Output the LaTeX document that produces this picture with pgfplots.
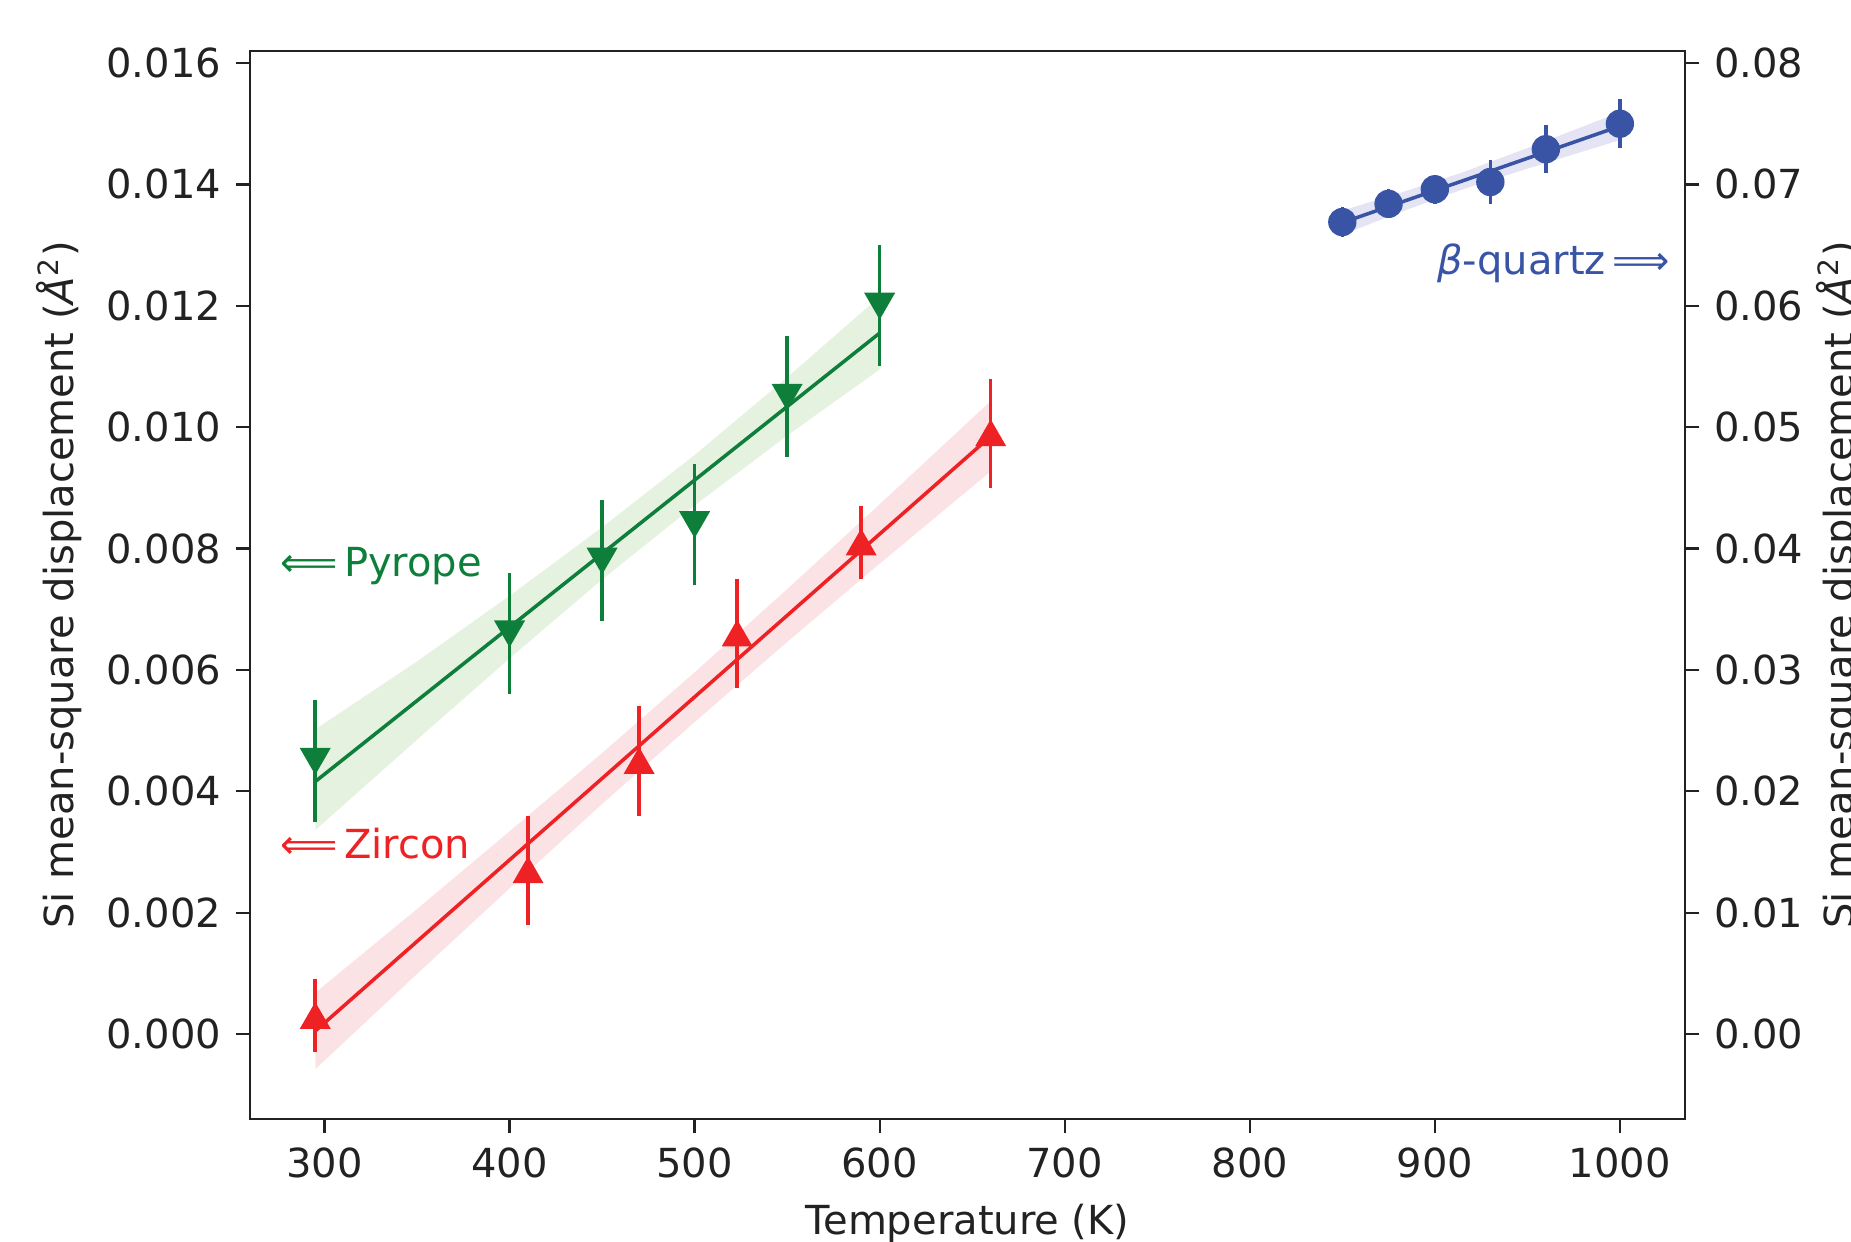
\documentclass[border=0pt]{standalone}
\usepackage{fontspec}
\setmainfont{DejaVu Sans}
\usepackage{pgfplots}
\pgfplotsset{compat=1.18}
\definecolor{txt}{HTML}{222222}
\definecolor{zircon}{HTML}{EE2124}
\definecolor{zirconband}{HTML}{FBE3E5}
\definecolor{pyrope}{HTML}{0E7F3B}
\definecolor{pyropeband}{HTML}{E6F2E0}
\definecolor{quartz}{HTML}{3954A5}
\definecolor{quartzband}{HTML}{E4E4F4}

\pgfplotsset{
  base/.style={
    at={(0,0)}, anchor=south west,
    width=344.2pt, height=256.2pt, scale only axis,
    xmin=259.75, xmax=1035.25,
    tick align=outside, major tick length=3.4pt,
    tick style={line width=0.55pt, color=txt},
    axis line style={line width=0.55pt, color=txt},
    every tick label/.append style={text=txt},
    label style={text=txt},
    /pgf/number format/assume math mode=true,
    /pgf/number format/1000 sep={},
    scaled y ticks=false,
  },
  errs/.style={error bars/.cd, y dir=both, y explicit, error mark=none,
    error bar style={line width=0.85pt}},
}

\begin{document}
\begin{tikzpicture}[font=\fontsize{9.6}{11.5}\selectfont]
\begin{axis}[base,
    ymin=-0.0014, ymax=0.0162,
    xtick={300,400,500,600,700,800,900,1000},
    ytick={0,0.002,0.004,0.006,0.008,0.010,0.012,0.014,0.016},
    xtick pos=left, ytick pos=left,
    yticklabel style={/pgf/number format/.cd, fixed, fixed zerofill, precision=3},
    xlabel={Temperature (K)},
    ylabel={Si mean-square displacement (\textit{Å}\textsuperscript{2})},
    x label style={at={(axis description cs:0.5,-0.1077)}, anchor=base},
    y label style={at={(axis description cs:-0.133,0.5)}, anchor=center},
]
% pyrope band, fit, data
\addplot[fill=pyropeband, draw=none] coordinates {
  (295,0.00502) (350,0.00614) (400,0.00722) (450,0.00835) (500,0.00954) (550,0.01082) (600,0.01215)
  (600,0.01095) (550,0.00986) (500,0.00871) (450,0.00749) (400,0.00619) (350,0.00485) (295,0.00336)
};
\addplot[pyrope, line width=0.85pt] coordinates {(295,0.00416) (600,0.01155)};
\addplot[pyrope, only marks, mark=triangle*, mark size=3.9pt,
  mark options={yshift=0.97pt, rotate=180}, errs] table[x index=0, y index=1, y error index=2] {
295 0.0045 0.0010
400 0.0066 0.0010
450 0.0078 0.0010
500 0.0084 0.0010
550 0.0105 0.0010
600 0.0120 0.0010
};
% zircon band, fit, data
\addplot[fill=zirconband, draw=none] coordinates {
  (295,0.00068) (350,0.00206) (400,0.00334) (450,0.00463) (500,0.00596) (550,0.00733) (600,0.00873) (660,0.01043)
  (660,0.00927) (600,0.00775) (550,0.00646) (500,0.00514) (450,0.00379) (400,0.00240) (350,0.00099) (295,-0.00058)
};
\addplot[zircon, line width=0.85pt] coordinates {(295,0.00005) (660,0.00985)};
\addplot[zircon, only marks, mark=triangle*, mark size=3.9pt,
  mark options={yshift=-0.97pt}, errs] table[x index=0, y index=1, y error index=2] {
295 0.0003 0.0006
410 0.0027 0.0009
470 0.0045 0.0009
523 0.0066 0.0009
590 0.0081 0.0006
660 0.0099 0.0009
};
\node[anchor=base west, inner sep=0pt, text=pyrope] at (axis cs:275.5,0.00754) {⟸\hspace{1.6pt}Pyrope};
\node[anchor=base west, inner sep=0pt, text=zircon] at (axis cs:275.5,0.00290) {⟸\hspace{1.6pt}Zircon};
\end{axis}

\begin{axis}[base,
    ymin=-0.007, ymax=0.081,
    axis x line=none, axis y line*=right,
    ytick={0,0.01,0.02,0.03,0.04,0.05,0.06,0.07,0.08},
    yticklabel style={/pgf/number format/.cd, fixed, fixed zerofill, precision=2},
    ylabel={Si mean-square displacement (\textit{Å}\textsuperscript{2})},
    y label style={at={(axis description cs:1.1073,0.5)}, anchor=center},
]
\addplot[fill=quartzband, draw=none] coordinates {
  (850,0.06785) (880,0.06924) (915,0.07099) (950,0.07300) (1000,0.07595)
  (1000,0.07365) (950,0.07130) (915,0.06959) (880,0.06764) (850,0.06585)
};
\addplot[quartz, line width=0.85pt] coordinates {(850,0.06685) (1000,0.07480)};
\addplot[quartz, only marks, mark=*, mark size=3.2pt, errs] table[x index=0, y index=1, y error index=2] {
850 0.0669 0.0012
875 0.0684 0.0012
900 0.0696 0.0012
930 0.0702 0.0018
960 0.0729 0.0020
1000 0.0750 0.0020
};
\node[anchor=base east, inner sep=0pt, text=quartz] at (axis cs:1027.5,0.06255) {\textit{β}-quartz\hspace{1.6pt}⟹};
\end{axis}
\pgfresetboundingbox
\useasboundingbox (-59.97pt,-29.26pt) rectangle (384.0pt,268.4pt);
\end{tikzpicture}
\end{document}
